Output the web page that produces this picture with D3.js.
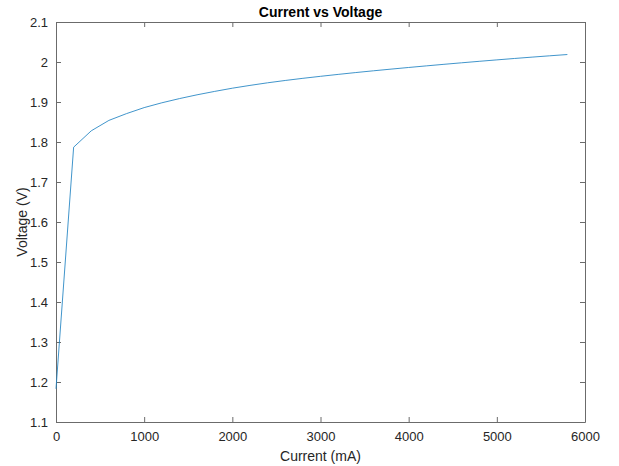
<!DOCTYPE html>
<html>
<head>
<meta charset="utf-8">
<script src="https://cdn.jsdelivr.net/npm/d3@7"></script>
<style>
  body { margin: 0; background: #fff; }
  text { font-family: "Liberation Sans", Arial, sans-serif; fill: #262626; }
</style>
</head>
<body>
<svg id="chart" width="619" height="466"></svg>
<script>
// current in mA, voltage in V
const current = [0, 200, 400, 600, 800, 1000, 1200, 1400, 1600, 1800, 2000,
  2200, 2400, 2600, 2800, 3000, 3200, 3400, 3600, 3800, 4000, 4200, 4400,
  4600, 4800, 5000, 5200, 5400, 5600, 5800]
const voltage = [1.183, 1.787, 1.828, 1.854, 1.871, 1.886, 1.898, 1.9085,
  1.918, 1.9265, 1.9345, 1.9415, 1.948, 1.9538, 1.9592, 1.9642, 1.969,
  1.9736, 1.978, 1.9822, 1.9863, 1.9903, 1.9942, 1.998, 2.0017, 2.0053,
  2.0088, 2.0122, 2.0155, 2.0187]
const xTicks = [0, 1000, 2000, 3000, 4000, 5000, 6000]
const yTicks = [1.1, 1.2, 1.3, 1.4, 1.5, 1.6, 1.7, 1.8, 1.9, 2, 2.1]

const svg = d3.select("#chart")
const margin = {left: 56, right: 34, top: 22, bottom: 44}
const width = 619, height = 466
const axisColor = "#6b6b6b"

const x = d3.scaleLinear().domain([0, 6000]).range([margin.left, width - margin.right])
const y = d3.scaleLinear().domain([1.1, 2.1]).range([height - margin.bottom, margin.top])

const tickLen = 5

// box axes, ticks pointing inward
const axBottom = svg.append("g")
  .attr("transform", `translate(0,${y.range()[0]})`)
  .call(d3.axisBottom(x).tickValues(xTicks).tickFormat(d3.format("d")).tickSizeInner(-tickLen).tickSizeOuter(0).tickPadding(10))
const axTop = svg.append("g")
  .attr("transform", `translate(0,${y.range()[1]})`)
  .call(d3.axisTop(x).tickValues(xTicks).tickFormat("").tickSizeInner(-tickLen).tickSizeOuter(0))
const axLeft = svg.append("g")
  .attr("transform", `translate(${x.range()[0]},0)`)
  .call(d3.axisLeft(y).tickValues(yTicks).tickFormat(d3.format("~g")).tickSizeInner(-tickLen).tickSizeOuter(0).tickPadding(8))
const axRight = svg.append("g")
  .attr("transform", `translate(${x.range()[1]},0)`)
  .call(d3.axisRight(y).tickValues(yTicks).tickFormat("").tickSizeInner(-tickLen).tickSizeOuter(0))

for (const g of [axBottom, axTop, axLeft, axRight]) {
  g.selectAll("path.domain").attr("stroke", axisColor).attr("stroke-width", 1)
  g.selectAll(".tick line").attr("stroke", axisColor)
  g.selectAll(".tick text").style("font-size", "13px").attr("fill", "#262626")
}

const line = d3.line()
  .x((d, i) => x(current[i]))
  .y(d => y(d))

svg.append("path")
  .datum(voltage)
  .attr("fill", "none")
  .attr("stroke", "#1f82c2")
  .attr("stroke-width", 0.85)
  .attr("d", line)

svg.append("text")
  .attr("x", (x.range()[0] + x.range()[1]) / 2)
  .attr("y", 17)
  .attr("text-anchor", "middle")
  .style("font-size", "14px")
  .style("font-weight", "bold")
  .style("fill", "#000")
  .text("Current vs Voltage")

svg.append("text")
  .attr("x", (x.range()[0] + x.range()[1]) / 2)
  .attr("y", 461)
  .attr("text-anchor", "middle")
  .style("font-size", "14px")
  .text("Current (mA)")

svg.append("text")
  .attr("transform", `translate(27,${(y.range()[0] + y.range()[1]) / 2}) rotate(-90)`)
  .attr("text-anchor", "middle")
  .style("font-size", "14px")
  .text("Voltage (V)")
</script>
</body>
</html>
